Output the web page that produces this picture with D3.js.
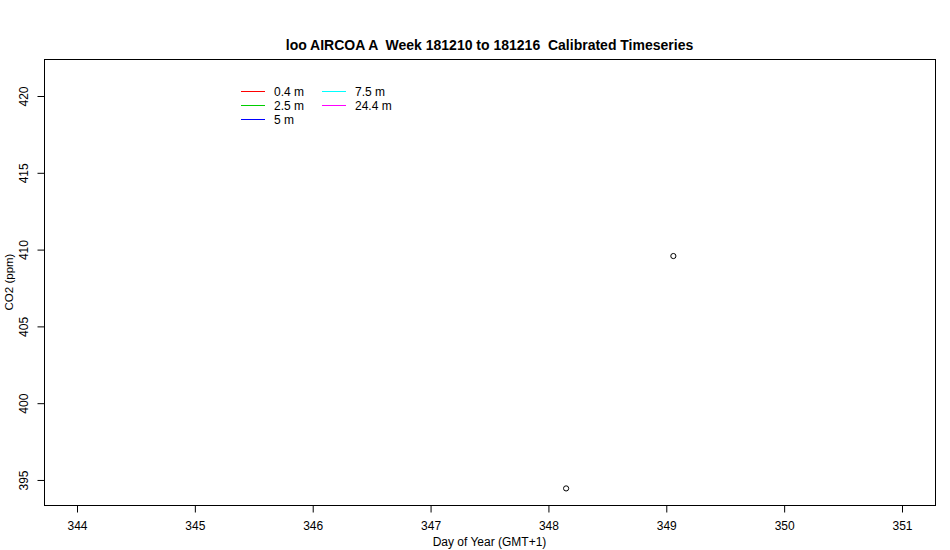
<!DOCTYPE html>
<html><head><meta charset="utf-8">
<script src="https://cdn.jsdelivr.net/npm/d3@7"></script>
<style>body{margin:0;background:#fff}svg{display:block;font-family:Arial,"Liberation Sans",sans-serif}text{white-space:pre}</style>
</head><body><svg id="c" width="950" height="550"></svg>
<script>
const title = "loo AIRCOA A  Week 181210 to 181216  Calibrated Timeseries";
const pointDays = [348.15, 349.06];
const pointCO2 = [394.45, 409.58];
const xTicks = [344, 345, 346, 347, 348, 349, 350, 351];
const yTicks = [395, 400, 405, 410, 415, 420];
const legendLabels = ["0.4 m", "2.5 m", "5 m", "7.5 m", "24.4 m"];
const legendColors = ["#ff0000", "#00cd00", "#0000ff", "#00ffff", "#ff00ff"];

const svg = d3.select("#c");
const L = 44, R = 935, T = 59, B = 505;
const x = d3.scaleLinear().domain([343.72, 351.28]).range([L, R]);
const y = d3.scaleLinear().domain([393.37, 422.41]).range([B, T]);

svg.append("rect").attr("x", L + 0.5).attr("y", T + 0.5).attr("width", R - L).attr("height", B - T)
  .attr("fill", "none").attr("stroke", "#000").attr("stroke-width", 1);

const xa = svg.append("g").attr("transform", `translate(0,${B + 0.5})`)
  .call(d3.axisBottom(x).tickValues(xTicks).tickFormat(d3.format("d")).tickSize(7).tickPadding(9));
xa.select(".domain").attr("d", `M${x(344)},0H${x(351)}`);
xa.selectAll("text").attr("font-size", 12).attr("font-family", "Arial, 'Liberation Sans', sans-serif").attr("fill", "#000");

const ya = svg.append("g").attr("transform", `translate(${L + 0.5},0)`)
  .call(d3.axisLeft(y).tickValues(yTicks).tickFormat(d3.format("d")).tickSize(7).tickPadding(4));
ya.select(".domain").attr("d", `M0,${y(395)}V${y(420)}`);
ya.selectAll("text").attr("font-size", 12).attr("font-family", "Arial, 'Liberation Sans', sans-serif").attr("fill", "#000")
  .attr("text-anchor", "middle").attr("dy", 0).attr("x", 0)
  .attr("transform", d => `translate(-17,0) rotate(-90)`);

svg.append("text").attr("x", (L + R) / 2).attr("y", 50).attr("text-anchor", "middle")
  .attr("font-weight", "bold").attr("font-size", 14).text(title);
svg.append("text").attr("x", (L + R) / 2).attr("y", 546).attr("text-anchor", "middle")
  .attr("font-size", 12).text("Day of Year (GMT+1)");
svg.append("text").attr("transform", `translate(13,${(T + B) / 2}) rotate(-90)`).attr("text-anchor", "middle")
  .attr("font-size", 11.5).text("CO2 (ppm)");

svg.selectAll("circle.pt").data(pointDays).join("circle").attr("class", "pt")
  .attr("cx", (d, i) => x(d)).attr("cy", (d, i) => y(pointCO2[i])).attr("r", 2.6)
  .attr("fill", "none").attr("stroke", "#000").attr("stroke-width", 1);

const lg = svg.append("g");
legendLabels.forEach((lab, i) => {
  const col = Math.floor(i / 3), row = i % 3;
  const lx = 241 + col * 81, ly = 91.5 + row * 14;
  lg.append("line").attr("x1", lx).attr("x2", lx + 24).attr("y1", ly).attr("y2", ly)
    .attr("stroke", legendColors[i]).attr("stroke-width", 1).attr("shape-rendering", "crispEdges");
  lg.append("text").attr("x", lx + 33).attr("y", ly + 4.5).attr("font-size", 12).text(lab);
});
</script></body></html>
